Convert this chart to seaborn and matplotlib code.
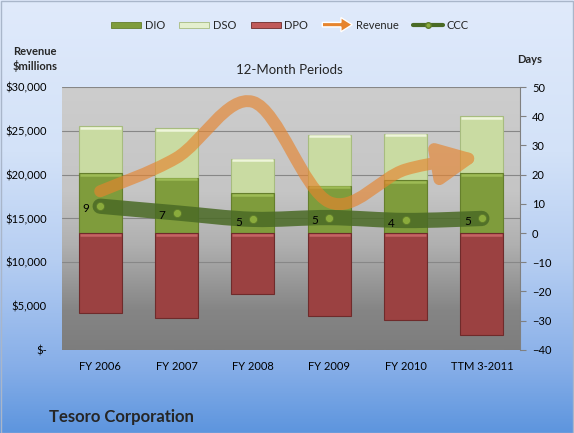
import numpy as np
import pandas as pd
import seaborn as sns
import matplotlib
matplotlib.use('Agg')
import matplotlib.pyplot as plt
from matplotlib.path import Path
from matplotlib.patches import FancyArrowPatch, PathPatch, Patch, FancyArrow, Rectangle
from matplotlib.lines import Line2D
from matplotlib.legend_handler import HandlerPatch
from matplotlib.colors import LinearSegmentedColormap
from matplotlib.ticker import FuncFormatter, MultipleLocator
from matplotlib.transforms import offset_copy

# Data
periods = ['FY 2006', 'FY 2007', 'FY 2008', 'FY 2009', 'FY 2010', 'TTM 3-2011']
revenue = [18104, 21915, 28309, 16872, 20583, 22100]   # $ millions
dio = [20.5, 19.0, 13.6, 16.2, 18.0, 20.5]             # days
dso = [16.0, 17.0, 11.8, 17.5, 16.0, 19.5]
dpo = [27.3, 29.1, 20.7, 28.4, 29.7, 35.0]
ccc = [9.2, 6.9, 4.7, 5.3, 4.3, 5.0]
ccc_labels = ['9', '7', '5', '5', '4', '5']

df = pd.DataFrame({'period': periods, 'revenue': revenue, 'dio': dio,
                   'dso': dso, 'dpo': dpo, 'ccc': ccc})
df['dio_dso'] = df['dio'] + df['dso']
df['neg_dpo'] = -df['dpo']
df['pos'] = np.arange(len(df))

# colours
dio_c, dso_c, dpo_c = '#7f9c3c', '#c9dba2', '#9b4141'
rev_c = '#e6842e'
ccc_c = '#4a6a25'
BAR_W = 0.56

sns.set_theme(style='white')
plt.rcParams['font.family'] = ['Lato', 'DejaVu Sans']
plt.rcParams['font.size'] = 8


def smooth_path(xs, ys):
    # Excel-style smoothed line: cubic bezier through the points
    pts = np.column_stack([xs, ys]).astype(float)
    n = len(pts)
    verts = [pts[0]]
    codes = [Path.MOVETO]
    for i in range(n - 1):
        p0 = pts[i - 1] if i > 0 else pts[i]
        p1, p2 = pts[i], pts[i + 1]
        p3 = pts[i + 2] if i + 2 < n else p2
        verts += [p1 + (p2 - p0) / 6, p2 - (p3 - p1) / 6, p2]
        codes += [Path.CURVE4] * 3
    return Path(np.array(verts), codes)


def fade(alpha):
    # group transparency for a whole axes layer
    def _f(img, dpi):
        img = img.copy()
        img[..., 3] *= alpha
        return img, 0, 0
    return _f


fig = plt.figure(figsize=(5.74, 4.33), dpi=100)

# figure background gradient
bg = fig.add_axes([0, 0, 1, 1], zorder=-10)
bg_cmap = LinearSegmentedColormap.from_list('bg', [
    (0.0, '#e0eafb'), (0.35, '#d3e2f8'), (0.6, '#b6cef2'),
    (0.85, '#86aee8'), (1.0, '#5d95de')])
bg.imshow(np.linspace(0, 1, 256).reshape(-1, 1), cmap=bg_cmap, aspect='auto',
          extent=(0, 1, 0, 1), origin='upper')
bg.set_axis_off()
fig.add_artist(Rectangle((0.001, 0.001), 0.998, 0.997, transform=fig.transFigure,
                         fill=False, edgecolor='#a9b6ca', lw=1))

rect = [0.108, 0.192, 0.798, 0.607]
ax_rev = fig.add_axes(rect, zorder=1)
ax_days = ax_rev.twinx()
ax_days.set_zorder(2)
ax_line = ax_rev.twinx()
ax_line.set_zorder(3)
ax_ccc = ax_rev.twinx()
ax_ccc.set_zorder(4)

# plot-area gray gradient
pa_cmap = LinearSegmentedColormap.from_list('pa', [
    (0.0, '#cdcdcd'), (0.4, '#c5c5c5'), (0.6, '#b0b0b0'),
    (0.85, '#858585'), (1.0, '#7d7d7d')])
ax_rev.imshow(np.linspace(0, 1, 256).reshape(-1, 1), cmap=pa_cmap, aspect='auto',
              extent=(-0.5, 5.5, 0, 30000), origin='upper', zorder=0)
ax_rev.set_axisbelow(True)
ax_rev.yaxis.grid(True, color='#878787', lw=0.8)
ax_rev.set_ylim(0, 30000)
ax_rev.yaxis.set_major_locator(MultipleLocator(5000))
ax_rev.yaxis.set_major_formatter(FuncFormatter(lambda v, p: '$-' if v == 0 else f'${v:,.0f}'))
ax_rev.tick_params(axis='y', length=0, pad=11, labelsize=8, colors='black')
ax_rev.tick_params(axis='x', length=0, pad=8, labelsize=8, colors='black')

# stacked bars (days)
bar_kw = dict(width=BAR_W, errorbar=None, ax=ax_days, linewidth=0.8, saturation=1)
sns.barplot(data=df, x='period', y='dio_dso', color=dso_c, edgecolor='#a7bc7f', **bar_kw)
sns.barplot(data=df, x='period', y='dio', color=dio_c, edgecolor='#657f2c', **bar_kw)
sns.barplot(data=df, x='period', y='neg_dpo', color=dpo_c, edgecolor='#6f2b2b', **bar_kw)

# bevel highlight along the top of each segment
hl = offset_copy(ax_days.transData, fig=fig, y=-1.6, units='dots')
x0 = df['pos'] - BAR_W / 2 + 0.012
x1 = df['pos'] + BAR_W / 2 - 0.012
ax_days.hlines(df['dio_dso'], x0, x1, color='#eef5da', lw=1.8, transform=hl)
ax_days.hlines(df['dio'], x0, x1, color='#9dbb55', lw=1.8, transform=hl)
ax_days.hlines(np.zeros(len(df)), x0, x1, color='#c46464', lw=1.8, transform=hl)

ax_days.set_ylim(-40, 50)
ax_days.yaxis.set_major_locator(MultipleLocator(10))
ax_days.tick_params(axis='y', length=4, width=0.8, color='#808080', pad=4.5, labelsize=8, colors='black')
ax_days.tick_params(axis='y', color='#808080')
ax_days.set_xlabel('')
ax_days.set_ylabel('')

# revenue curve with arrow head (own layer, made translucent as a whole)
ax_line.set_ylim(0, 30000)
rev_arrow = FancyArrowPatch(path=smooth_path(df['pos'], df['revenue']),
                            arrowstyle='-|>,head_length=2.3,head_width=1.1',
                            mutation_scale=10, lw=8.6, color=rev_c,
                            capstyle='round', joinstyle='round',
                            transform=ax_line.transData)
ax_line.add_patch(rev_arrow)
ax_line.set_yticks([])
ax_line.set_agg_filter(fade(0.65))

# cash conversion cycle
ax_ccc.set_ylim(-40, 50)
ax_ccc.add_patch(PathPatch(smooth_path(df['pos'], df['ccc']), fill=False, lw=11,
                           edgecolor=ccc_c, alpha=0.85, capstyle='round'))
sns.scatterplot(data=df, x='pos', y='ccc', ax=ax_ccc, s=34, color='#8aab3c',
                edgecolor='#5d7b2a', linewidth=0.6, zorder=5)
for p, v, lab in zip(df['pos'], df['ccc'], ccc_labels):
    ax_ccc.annotate(lab, (p, v), xytext=(-8, -2), textcoords='offset points',
                    ha='right', va='center', fontsize=8.5, color='black')
ax_ccc.set_yticks([])
ax_ccc.set_xlabel('')
ax_ccc.set_ylabel('')

for a in (ax_rev, ax_days, ax_line, ax_ccc):
    a.set_xlim(-0.5, 5.5)
    for s in a.spines.values():
        s.set_visible(False)
ax_days.spines['right'].set_visible(True)
ax_days.spines['right'].set_color('#808080')
ax_days.spines['right'].set_linewidth(0.8)

# texts
fig.text(0.505, 0.838, '12-Month Periods', ha='center', va='center', fontsize=9.5)
fig.text(0.022, 0.864, 'Revenue\n$millions', ha='left', va='center', fontsize=8,
         fontweight='bold', linespacing=1.35)
fig.text(0.923, 0.862, 'Days', ha='center', va='center', fontsize=8, fontweight='bold')
fig.text(0.086, 0.037, 'Tesoro Corporation', ha='left', va='center', fontsize=12,
         fontweight='bold')


# legend
def legend_arrow(legend, orig_handle, xdescent, ydescent, width, height, fontsize):
    return FancyArrow(-xdescent, height / 2 - ydescent, width, 0, width=height * 0.75,
                      head_width=height * 2.4, head_length=width * 0.38,
                      length_includes_head=True, color=rev_c, alpha=0.65, lw=0)


handles = [Patch(facecolor=dio_c, edgecolor='#657f2c', lw=0.6),
           Patch(facecolor='#e4efcf', edgecolor='#a7bc7f', lw=0.6),
           Patch(facecolor='#c05a5a', edgecolor='#6f2b2b', lw=0.6),
           Patch(facecolor=rev_c),
           Line2D([], [], color=ccc_c, lw=3, marker='o', markersize=4,
                  markerfacecolor='#8aab3c', markeredgecolor='#5d7b2a')]
fig.legend(handles, ['DIO', 'DSO', 'DPO', 'Revenue', 'CCC'], loc='center',
           bbox_to_anchor=(0.505, 0.942), ncol=5, frameon=False, fontsize=8,
           handlelength=2.7, handleheight=0.45, handletextpad=0.3, columnspacing=1.3,
           handler_map={handles[3]: HandlerPatch(patch_func=legend_arrow)})

fig.savefig('out.png', dpi=100)
